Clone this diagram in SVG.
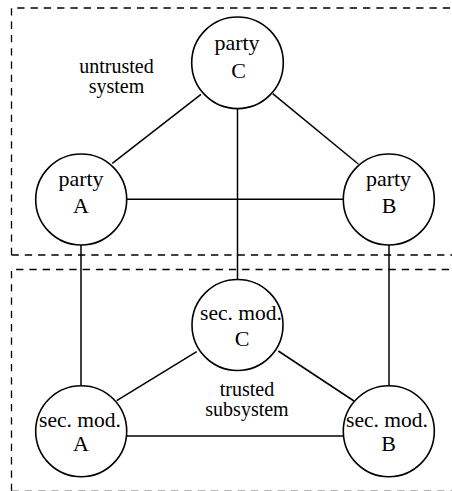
<svg xmlns="http://www.w3.org/2000/svg" width="452" height="491" viewBox="0 0 452 491">
<style>
.frame{fill:none;stroke:#000;stroke-width:1.3;stroke-dasharray:7.3 6}
.node circle{fill:#fff;stroke:#000;stroke-width:1.6}
.node text{font-family:"Liberation Serif",serif;font-size:22px;text-anchor:middle;fill:#000}
.node text.sm{font-size:21.5px}
.lbl{font-family:"Liberation Serif",serif;font-size:20px;text-anchor:middle;fill:#000}
#connectors line{stroke:#000;stroke-width:1.5}
</style>
<rect width="452" height="491" fill="#fff"/>
<g id="frames">
<path class="frame" d="M11.5 255 V8 H460 M11.5 255 H460"/>
<path class="frame" d="M11.5 491 V269.5 H460"/>
<path class="frame" d="M11.5 491 H460" style="stroke:#999"/>
</g>
<g id="labels">
<text class="lbl" x="116.5" y="72.5">untrusted</text>
<text class="lbl" x="116.5" y="93">system</text>
<text class="lbl" x="247" y="395.5">trusted</text>
<text class="lbl" x="247" y="416">subsystem</text>
</g>
<g id="connectors">
<line x1="201" y1="94.3" x2="112.3" y2="163.3"/>
<line x1="272.7" y1="93.7" x2="358.3" y2="164"/>
<line x1="126.5" y1="199.3" x2="343.5" y2="199.3"/>
<line x1="237.5" y1="108.8" x2="237.5" y2="279.5"/>
<line x1="81" y1="245" x2="81" y2="386"/>
<line x1="389" y1="245" x2="389" y2="386"/>
<line x1="196.7" y1="351.7" x2="116.7" y2="400.7"/>
<line x1="278.3" y1="351" x2="354" y2="401"/>
<line x1="126.5" y1="436" x2="343.5" y2="436"/>
</g>
<g id="partyC" class="node"><circle cx="237.5" cy="62.8" r="45.8"/><text x="237" y="50">party</text><text x="238.5" y="78">C</text></g>
<g id="partyA" class="node"><circle cx="81.2" cy="199.5" r="45.5"/><text x="81" y="185.5">party</text><text x="81" y="213">A</text></g>
<g id="partyB" class="node"><circle cx="388.8" cy="199.5" r="45.5"/><text x="388.5" y="185.5">party</text><text x="389" y="213">B</text></g>
<g id="secmodC" class="node"><circle cx="237.5" cy="325" r="45.5"/><text class="sm" x="241" y="320">sec. mod.</text><text x="242" y="346">C</text></g>
<g id="secmodA" class="node"><circle cx="81.2" cy="431.2" r="45.5"/><text class="sm" x="80" y="426.5">sec. mod.</text><text x="81" y="451">A</text></g>
<g id="secmodB" class="node"><circle cx="388.8" cy="431.2" r="45.5"/><text class="sm" x="387" y="426.5">sec. mod.</text><text x="388.5" y="451">B</text></g>
</svg>
